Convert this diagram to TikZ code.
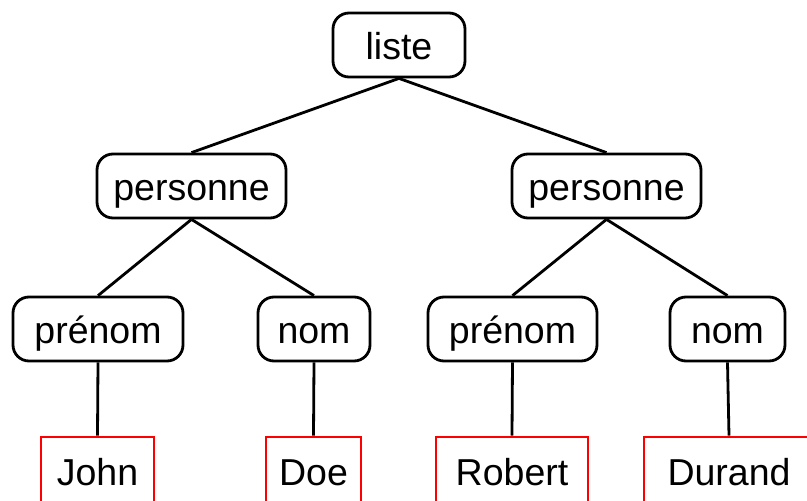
\documentclass[tikz,border=0pt]{standalone}
\usepackage{fontspec}
\setmainfont{Liberation Sans}
\begin{document}
\begin{tikzpicture}[x=1pt,y=-1pt,
  every node/.style={font=\fontsize{37.5}{40}\selectfont, inner sep=0pt, text height=28pt, text depth=0pt},
  tag/.style={draw=black, line width=2.8pt, rounded corners=16pt, fill=white, minimum height=64pt},
  leaf/.style={draw=red, line width=2.8pt, fill=white, minimum height=68pt},
  link/.style={line width=2.8pt}]
\useasboundingbox (0,0) rectangle (807,501);
\clip (0,0) rectangle (807,501);
% element tree
\node[tag, minimum width=132pt] (liste) at (399,45) {liste};
\node[tag, minimum width=189pt] (p1) at (191.5,186) {personne};
\node[tag, minimum width=189pt] (p2) at (606.5,186) {personne};
\node[tag, minimum width=170pt] (pr1) at (98,329) {prénom};
\node[tag, minimum width=112pt] (n1) at (314,329) {nom};
\node[tag, minimum width=169pt] (pr2) at (512.5,329) {prénom};
\node[tag, minimum width=115pt] (n2) at (727.5,329) {nom};
% text leaves
\node[leaf, minimum width=113pt] (john) at (97.5,471) {John};
\node[leaf, minimum width=95pt] (doe) at (313.5,471) {Doe};
\node[leaf, minimum width=152pt] (robert) at (512,471) {Robert};
\node[leaf, minimum width=170pt] (durand) at (729,471) {Durand};
% connectors
\draw[link] (liste.south) -- (p1.north);
\draw[link] (liste.south) -- (p2.north);
\draw[link] (p1.south) -- (pr1.north);
\draw[link] (p1.south) -- (n1.north);
\draw[link] (p2.south) -- (pr2.north);
\draw[link] (p2.south) -- (n2.north);
\draw[link] (pr1.south) -- (john.north);
\draw[link] (n1.south) -- (doe.north);
\draw[link] (pr2.south) -- (robert.north);
\draw[link] (n2.south) -- (durand.north);
\end{tikzpicture}
\end{document}
